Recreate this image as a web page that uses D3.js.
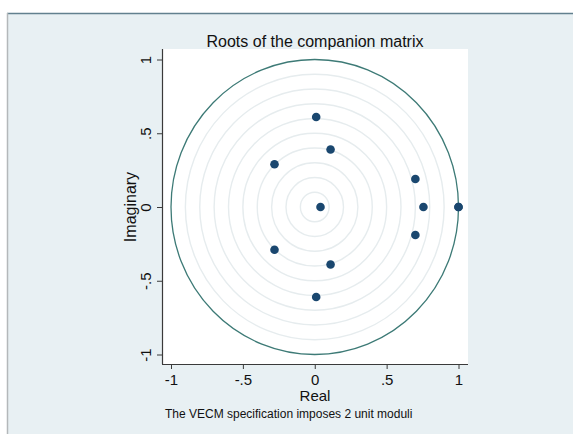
<!DOCTYPE html>
<html>
<head>
<meta charset="utf-8">
<script src="https://cdn.jsdelivr.net/npm/d3@7/dist/d3.min.js"></script>
<style>
  html, body { margin: 0; padding: 0; background: #ffffff; }
  svg { display: block; }
  text { font-family: "Liberation Sans", Arial, sans-serif; fill: #111; }
</style>
</head>
<body>
<svg id="chart" width="573" height="434"></svg>
<script>
// Eigenvalues of the companion matrix (real and imaginary parts)
const rootReal = [1, 1, 0.756, 0.70, 0.70, 0.11, 0.11, 0.01, 0.01, -0.28, -0.28, 0.04];
const rootImag = [0, 0, 0, 0.19, -0.19, 0.39, -0.39, 0.61, -0.61, 0.29, -0.29, 0];
const gridRadii = [0.1, 0.2, 0.3, 0.4, 0.5, 0.6, 0.7, 0.8, 0.9];
const tickValues = [-1, -0.5, 0, 0.5, 1];
const tickLabels = ["-1", "-.5", "0", ".5", "1"];
const titleText = "Roots of the companion matrix";
const noteText = "The VECM specification imposes 2 unit moduli";

const svg = d3.select("#chart");

// outer frame
svg.append("rect").attr("x", 8).attr("y", 13).attr("width", 565).attr("height", 421)
  .attr("fill", "#e8f0f3");
svg.append("line").attr("x1", 7).attr("x2", 573).attr("y1", 13.5).attr("y2", 13.5)
  .attr("stroke", "#62808e").attr("stroke-width", 1.5);
svg.append("line").attr("x1", 7.5).attr("x2", 7.5).attr("y1", 13).attr("y2", 434)
  .attr("stroke", "#b4b8ba").attr("stroke-width", 1.5);

// plot region
const pLeft = 162, pRight = 468, pTop = 49, pBottom = 364;
svg.append("rect").attr("x", pLeft).attr("y", pTop)
  .attr("width", pRight - pLeft).attr("height", pBottom - pTop).attr("fill", "#ffffff");

const x = d3.scaleLinear().domain([-1, 1]).range([171, 458.5]);
const y = d3.scaleLinear().domain([-1, 1]).range([354.5, 59.5]);

const plot = svg.append("g");

// concentric reference circles
plot.selectAll("ellipse.grid").data(gridRadii).enter().append("ellipse")
  .attr("class", "grid")
  .attr("cx", x(0)).attr("cy", y(0))
  .attr("rx", d => x(d) - x(0)).attr("ry", d => y(0) - y(d))
  .attr("fill", "none").attr("stroke", "#e6ecee").attr("stroke-width", 1.4);

// unit circle
plot.append("ellipse")
  .attr("cx", x(0)).attr("cy", y(0))
  .attr("rx", x(1) - x(0)).attr("ry", y(0) - y(1))
  .attr("fill", "none").attr("stroke", "#3d7a76").attr("stroke-width", 1.3);

// roots
const roots = rootReal.map((r, i) => ({ re: r, im: rootImag[i] }));
plot.selectAll("circle.root").data(roots).enter().append("circle")
  .attr("class", "root")
  .attr("cx", d => x(d.re)).attr("cy", d => y(d.im))
  .attr("r", 4.3).attr("fill", "#1a476f");

// axes
const fmt = d => tickLabels[tickValues.indexOf(d)];
const xAxis = svg.append("g").attr("transform", `translate(0,${pBottom})`)
  .call(d3.axisBottom(x).tickValues(tickValues).tickFormat(fmt).tickSize(5).tickPadding(5));
xAxis.select(".domain").attr("d", `M${pLeft},0.5H${pRight}`);
const yAxis = svg.append("g").attr("transform", `translate(${pLeft},0)`)
  .call(d3.axisLeft(y).tickValues(tickValues).tickFormat(fmt).tickSize(5));
yAxis.select(".domain").attr("d", `M0.5,${pTop}V${pBottom}`);

[xAxis, yAxis].forEach(a => {
  a.select(".domain").attr("stroke", "#3a3a3a").attr("stroke-width", 1.2);
  a.selectAll(".tick line").attr("stroke", "#3a3a3a");
  a.selectAll(".tick text").attr("font-size", 15).attr("fill", "#111")
    .attr("font-family", "Liberation Sans, Arial, sans-serif");
});
// vertical tick labels on the imaginary axis
yAxis.selectAll(".tick text")
  .attr("x", 0).attr("y", 0).attr("dy", null)
  .attr("text-anchor", "middle")
  .attr("transform", "translate(-11,0) rotate(-90)");

// titles
svg.append("text").attr("x", 315).attr("y", 47).attr("text-anchor", "middle")
  .attr("font-size", 16).text(titleText);
svg.append("text").attr("x", 315).attr("y", 401).attr("text-anchor", "middle")
  .attr("font-size", 15).text("Real");
svg.append("text").attr("transform", `translate(136,207) rotate(-90)`)
  .attr("text-anchor", "middle").attr("font-size", 16).text("Imaginary");
svg.append("text").attr("x", 165).attr("y", 418)
  .attr("font-size", 12).text(noteText);
</script>
</body>
</html>
